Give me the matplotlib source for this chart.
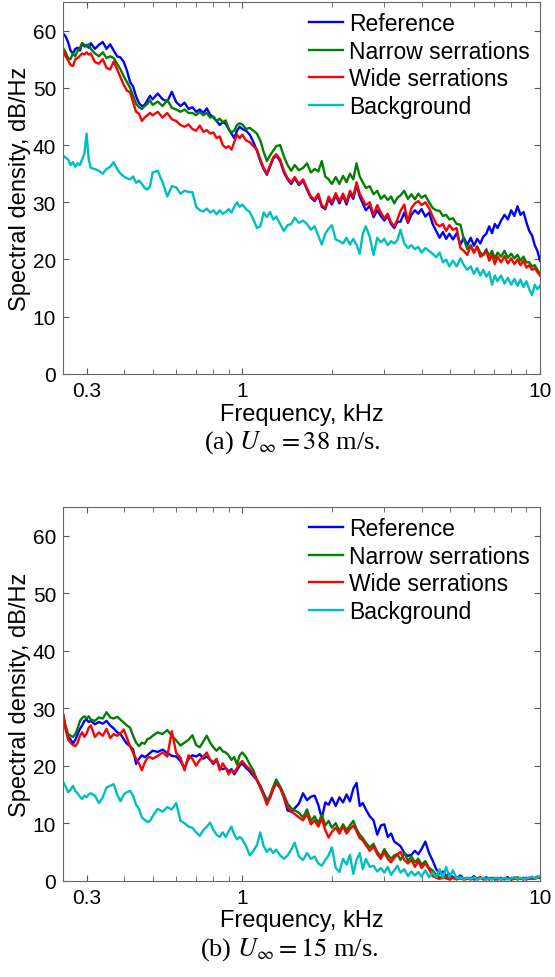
import matplotlib
matplotlib.use("Agg")
import matplotlib.pyplot as plt
from matplotlib.ticker import FixedLocator, NullFormatter

plt.rcParams['font.family'] = ['Liberation Sans', 'DejaVu Sans']
plt.rcParams['mathtext.fontset'] = 'stix'

# frequency grid, kHz (shared by both panels)
freq = [0.25, 0.255, 0.26, 0.265, 0.27, 0.275, 0.28, 0.285, 0.29, 0.295,
        0.30, 0.305, 0.31, 0.32, 0.33, 0.34, 0.35, 0.36, 0.37, 0.38,
        0.39, 0.40, 0.41, 0.42, 0.43, 0.44, 0.45, 0.46, 0.47, 0.48,
        0.49, 0.50, 0.52, 0.54, 0.56, 0.58, 0.60, 0.62, 0.64, 0.66,
        0.68, 0.70, 0.72, 0.74, 0.76, 0.78, 0.80, 0.82, 0.84, 0.86,
        0.88, 0.90, 0.92, 0.94, 0.96, 0.98, 1.00, 1.03, 1.06, 1.09,
        1.12, 1.15, 1.18, 1.21, 1.24, 1.27, 1.30, 1.34, 1.38, 1.42,
        1.46, 1.50, 1.55, 1.60, 1.65, 1.70, 1.75, 1.80, 1.85, 1.90,
        1.95, 2.00, 2.06, 2.12, 2.18, 2.24, 2.30, 2.36, 2.42, 2.48,
        2.54, 2.60, 2.68, 2.76, 2.84, 2.92, 3.00, 3.08, 3.16, 3.24,
        3.32, 3.40, 3.50, 3.60, 3.70, 3.80, 3.90, 4.00, 4.12, 4.24,
        4.36, 4.48, 4.60, 4.72, 4.84, 4.96, 5.10, 5.25, 5.40, 5.55,
        5.70, 5.85, 6.00, 6.15, 6.30, 6.45, 6.60, 6.75, 6.90, 7.05,
        7.20, 7.40, 7.60, 7.80, 8.00, 8.20, 8.40, 8.60, 8.80, 9.00,
        9.20, 9.40, 9.60, 9.80, 10.0]

# (a) U = 38 m/s
ref_38 = [59.5, 59, 58, 56.5, 56, 56.8, 57, 56.5, 57.8, 57.2,
          57.5, 57, 57.8, 56.8, 57.5, 58, 56.8, 57.6, 56.5, 55.5,
          55.3, 54.5, 53, 51, 50.2, 48.5, 47.3, 46.8, 47, 47.8,
          48.6, 48, 49, 48, 47.6, 49.3, 47.5, 46.8, 47.4, 46.3,
          46.6, 45.8, 46.2, 45.6, 46.4, 45.3, 44.8, 44.2, 43.5, 44,
          43.7, 42.8, 42, 41.2, 42.5, 43.2, 42.8, 42.5, 41.8, 40.5,
          39, 37.2, 35.8, 34.8, 36.2, 37.6, 38.2, 37.2, 35.2, 34,
          33.2, 34.2, 33, 33.8, 32.2, 30.8, 30.2, 31.2, 29.2, 28.8,
          30.6, 29.6, 31.2, 29.8, 31.2, 29.6, 31.6, 30.6, 33, 31,
          29.8, 28.6, 29.4, 27.4, 28.6, 27.6, 26.8, 27.6, 26.2, 25.5,
          26.6, 26.6, 28.2, 26.4, 27.8, 28.6, 28, 28.8, 27.5, 28.2,
          26.2, 25, 23.8, 24.8, 23.6, 24.5, 23.5, 24.6, 22.6, 23.8,
          22.5, 23.8, 22.4, 23.6, 22.8, 24, 24.5, 25.8, 24.6, 26.2,
          25.5, 26.8, 27.8, 27, 28.6, 27.6, 29.3, 27.8, 28.3, 26.5,
          25, 24.2, 22.5, 21.5, 19.8]
narrow_38 = [57, 56.2, 55.2, 55, 56, 55.5, 56.5, 57, 57.8, 57.5,
             57.2, 57.6, 56.8, 56, 55.5, 56.2, 55.2, 55.5, 55.2, 54.2,
             53.2, 52, 51, 50, 48.6, 47.2, 46.6, 46.3, 46.8, 47.2,
             47.8, 47, 47.6, 46.8, 47.9, 46.5, 46.2, 45.8, 46.2, 45.6,
             45.6, 45.2, 45.8, 45.2, 45.6, 44.8, 45, 44.2, 44.6, 44.0,
             44.3, 42.8, 42.2, 42.5, 43.5, 43.8, 43.6, 42.8, 43, 42.5,
             42, 40.8, 38.8, 37.2, 38.2, 39, 39.8, 40, 38, 36.5,
             35.5, 36.5, 35.6, 36, 36.8, 35.2, 35.8, 35.4, 37.2, 34.5,
             34, 33.2, 34.4, 33.2, 34.6, 33.5, 35, 34, 36.8, 34.5,
             33.5, 32.5, 32.8, 31.4, 32, 30.6, 31.2, 30.4, 31, 29.8,
             30.8, 31.2, 32, 30.6, 31.4, 30.5, 31.5, 30.8, 31.2, 30,
             29, 28.6, 28.5, 27.6, 27.8, 27, 27.2, 26.2, 26.1, 23.5,
             21.8, 22.5, 21.2, 22.3, 21.2, 20.8, 21.8, 20.6, 21.5, 20.2,
             21.2, 20.5, 21.5, 20.3, 21.0, 20.2, 20.8, 19.8, 20.5, 19.5,
             19.5, 18.8, 19, 18.2, 17.5]
wide_38 = [56.7, 55.5, 54.8, 54, 53.8, 55, 55.2, 55.6, 56, 55.8,
           56.2, 55.8, 56, 54.5, 54.2, 55, 53.5, 53.2, 54.6, 53.2,
           51.8, 50.5, 49.5, 49.2, 47.5, 45.8, 45.5, 44.2, 44.8, 45.2,
           45.6, 45.2, 45.8, 44.8, 45.6, 44.5, 44.2, 43.5, 43.2, 43.6,
           42.8, 42.5, 43.4, 42.3, 42.6, 42, 42.2, 41.2, 41.5, 40,
           39.5, 39.8, 39.2, 40.5, 41.8, 41.2, 41.8, 40.8, 40.5, 39.8,
           39.2, 37.5, 36, 35, 36.5, 37.8, 38.4, 37.5, 35.5, 34.2,
           33.5, 34.4, 33.2, 34, 32.5, 31, 30.5, 31.5, 29.5, 29,
           31, 30, 31.6, 30.2, 31.5, 30, 32, 31, 33.5, 31.5,
           30.5, 29.5, 30, 27.8, 29.5, 28.2, 27.2, 28, 26.5, 25.8,
           27, 28.5, 29.6, 26.6, 29, 29.8, 30.2, 29.5, 30, 29,
           27.5, 26.2, 25.8, 26.2, 25, 26, 25.2, 25.5, 22, 21.5,
           20.8, 22.4, 21.2, 22.2, 20.5, 20.8, 21.5, 19.8, 20.8, 19.2,
           20.5, 19.5, 20.6, 19.3, 20.2, 19.2, 20, 19, 19.8, 18.6,
           19, 18.2, 18.5, 17.8, 17.2]
bg_38 = [38.2, 37.8, 37.5, 36.5, 37, 36.2, 36.8, 36.5, 37.5, 38.5,
         42, 37.5, 36, 35.8, 35.5, 35, 35.8, 36.2, 37, 35.8,
         35, 34.5, 34.2, 34, 34.5, 33.4, 33.8, 33.2, 32.5, 32.2,
         32.8, 35.2, 35.5, 33.5, 31, 32.8, 32.6, 31.5, 32, 31.8,
         31.8, 29.2, 28.6, 28.4, 28.9, 28.2, 28.6, 27.9, 28.6, 28,
         28.3, 28.8, 28.2, 29.2, 30, 29.2, 29.6, 28.8, 28.3, 27,
         25.5, 25.8, 28.2, 27.4, 28.3, 27, 27.5, 26.2, 25, 26,
         26.2, 27.3, 26.4, 26.8, 26.2, 25.2, 25.8, 24.2, 22.6, 24.5,
         25.4, 26, 23.5, 23.2, 22.8, 23.8, 22.6, 23.6, 22.6, 21,
         24.5, 25.8, 24, 20.8, 23.8, 23, 23.6, 22.5, 23.2, 22.8,
         23.4, 25.2, 22.8, 22, 22.5, 21.8, 22.2, 21.2, 22, 21.5,
         21, 20.4, 21.2, 19.5, 20, 18.8, 19.8, 18.8, 20.2, 19,
         18.2, 18.8, 17.5, 18.5, 17.2, 18.2, 17, 17.8, 15.6, 17.2,
         16.2, 17.2, 15.8, 16.8, 15.6, 16.6, 15.4, 16.5, 15.2, 16.2,
         14.8, 13.8, 15.6, 14.8, 15.4]

# (b) U = 15 m/s
ref_15 = [29, 26.5, 25, 24.6, 23.8, 24.5, 25.5, 26.4, 27, 27.8,
          28, 27.6, 27.8, 27.2, 27.6, 27.3, 27.8, 27, 26.5, 25.8,
          25.5, 24.6, 23.8, 23.4, 22.8, 20.3, 21.2, 21.8, 21.5, 21.8,
          22.2, 22.6, 22.4, 22.8, 22.2, 21.7, 21.6, 20.8, 19.6, 21.2,
          21.8, 21.6, 22, 21.2, 21.6, 21, 20.3, 21, 19.6, 19.4,
          19.6, 19, 19.4, 18.5, 19.2, 20, 20.4, 19.6, 19, 18.2,
          17.5, 16.5, 15.2, 14, 14.4, 16, 17, 16.2, 14.5, 12.2,
          12, 12.6, 13.4, 15.2, 14, 14.6, 14.8, 13.2, 10.8, 13.6,
          13.2, 14.4, 13, 14.5, 13.6, 15, 13.8, 16, 17, 13,
          13.5, 12.4, 11.2, 10.5, 8, 9.6, 9.8, 7.6, 8.2, 6.8,
          6.4, 6, 4.8, 4.3, 4.5, 5.2, 4.6, 5.5, 6.8, 4.8,
          3.5, 2, 1.2, 1.6, 0.8, 1.2, 0.6, 0.4, 0.9, 0.3,
          0.5, 0.3, 0.8, 0.2, 0.5, 0.3, 0.6, 0.2, 0.4, 0.3,
          0.5, 0.2, 0.4, 0.6, 0.2, 0.5, 0.3, 0.4, 0.2, 0.5,
          0.3, 0.6, 0.4, 0.7, 0.5]
narrow_15 = [29, 27, 25.5, 25.2, 25, 25.5, 26.5, 27.8, 28.3, 28.6,
             28.2, 28.6, 28, 27.8, 28.4, 28.2, 29.3, 28.4, 28.2, 28.5,
             28, 27.5, 27, 26.6, 25.2, 24, 23.4, 24, 23.8, 24.6,
             24.8, 25.2, 25.8, 25.5, 26.2, 25.2, 24.4, 23.5, 24, 24.5,
             25.3, 23.6, 23.2, 24.2, 25.2, 24, 23.2, 22.6, 23.2, 22.5,
             22.3, 21.8, 21, 21.5, 20.2, 21.8, 22.3, 21.5, 20.2, 19.2,
             17.5, 16.2, 15, 13.8, 14.8, 16.3, 17.6, 16.4, 15, 13.4,
             12.6, 12.2, 11.8, 11, 12.4, 10.4, 11.2, 10, 11.5, 9.6,
             10.4, 9.2, 10, 8.6, 9.8, 8.8, 9.6, 10.4, 9, 8,
             7.4, 6.6, 5.8, 6.4, 5, 4.2, 5.5, 4.5, 3.8, 4.4,
             4.6, 3.6, 4.8, 3.5, 4.2, 3.2, 3.8, 2.8, 3.4, 2.2,
             1.8, 1, 0.6, 0.4, 0.8, 0.3, 0.5, 0.2, 0.6, 0.3,
             0.4, 0.2, 0.5, 0.3, 0.6, 0.2, 0.4, 0.3, 0.5, 0.2,
             0.3, 0.5, 0.2, 0.4, 0.3, 0.6, 0.2, 0.4, 0.5, 0.3,
             0.4, 0.6, 0.3, 0.5, 0.6]
wide_15 = [29, 26.4, 24.6, 24, 23.6, 23.4, 24, 25.2, 25.8, 25,
           25.6, 26.6, 27, 25, 25.8, 25.2, 26.4, 24.8, 25.5, 25.2,
           25.6, 26.3, 24.8, 23.4, 22.2, 21.2, 20.4, 19.2, 20.5, 21.4,
           21.5, 21.2, 21.7, 22.3, 21.6, 26, 22.2, 21.4, 19.2, 21.8,
           21.2, 20, 21, 21.6, 22.3, 21, 20.6, 21.2, 19.2, 20.4,
           19.6, 18.5, 19.2, 18.8, 19.6, 20.4, 20.8, 20, 19.4, 18.6,
           17.6, 16.2, 14.8, 13.2, 14.5, 16, 16.8, 16.2, 14.5, 12.8,
           12, 11.6, 11, 10.5, 11.6, 9.8, 10.5, 9.4, 10.8, 8.8,
           7.5, 8.5, 9.2, 8.2, 9.4, 8.2, 9, 9.6, 8.6, 7.4,
           7, 6.2, 5.2, 6, 4.6, 3.8, 5, 3.8, 3.2, 4,
           4.6, 5, 3.6, 3, 3.6, 2.4, 3.4, 2.2, 3, 2,
           0.8, 0.5, 0.3, 0.6, 0.4, 0.2, 0.5, 0.3, 0.4, 0.2,
           0.3, 0.5, 0.2, 0.4, 0.6, 0.3, 0.2, 0.5, 0.3, 0.4,
           0.2, 0.4, 0.3, 0.5, 0.2, 0.3, 0.6, 0.3, 0.4, 0.2,
           0.5, 0.3, 0.4, 0.6, 0.7]
bg_15 = [17.2, 16.4, 15.4, 15.8, 16.5, 15.6, 15.2, 14.6, 14.2, 14.8,
         14.5, 15, 15.2, 14.8, 13.5, 14.5, 16.2, 16.5, 16.8, 15,
         13.8, 15, 15.4, 15.6, 14.8, 13.2, 12.5, 11, 10.6, 10.2,
         10.4, 11.2, 12.5, 12, 12.8, 12.4, 13.5, 10.4, 10, 9.4,
         9.2, 8.4, 7.8, 8.8, 9.4, 10.1, 8.8, 8, 7.6, 8.4,
         7.6, 8.6, 9.4, 8, 7.2, 7.6, 7.2, 6, 4.4, 5.2,
         6.2, 8.4, 6, 5, 5.6, 4.8, 5.4, 4.4, 3.8, 4.4,
         5.4, 6.6, 4.2, 3.6, 4.8, 3.8, 4.2, 3, 2.6, 3.6,
         4.4, 5.8, 2.2, 1.5, 3.8, 2.8, 4.5, 1.2, 3.6, 4.8,
         2, 3.8, 2.4, 2.6, 1.6, 2.2, 1.4, 2.4, 1, 1.8,
         2.6, 1.4, 2, 0.8, 1.6, 0.9, 1.5, 0.7, 1.8, 0.6,
         1.4, 0.6, 2, 0.5, 2.4, 0.6, 1.8, 0.4, 0.6, 0.3,
         0.5, 0.3, 0.6, 0.2, 0.4, 0.5, 0.3, 0.4, 0.2, 0.5,
         0.4, 0.3, 0.5, 0.2, 0.4, 0.6, 0.3, 0.5, 0.3, 0.4,
         0.5, 0.7, 0.4, 0.6, 0.8]

labels = ["Reference", "Narrow serrations", "Wide serrations", "Background"]
colors = ["#0000ff", "#008000", "#ff0000", "#00bfbf"]


def draw_panel(ax, series):
    for vals, lab, col in zip(series, labels, colors):
        ax.plot(freq, vals, color=col, lw=1.7, label=lab)
    ax.set_xscale("log")
    ax.set_xlim(0.25, 10)
    ax.set_ylim(0, 65)
    ax.set_yticks([0, 10, 20, 30, 40, 50, 60])
    ax.xaxis.set_major_locator(FixedLocator([0.3, 1, 10]))
    ax.xaxis.set_minor_locator(FixedLocator([0.4, 0.5, 0.6, 0.7, 0.8, 0.9,
                                             2, 3, 4, 5, 6, 7, 8, 9]))
    ax.xaxis.set_minor_formatter(NullFormatter())
    ax.set_xticklabels(["0.3", "1", "10"])
    ax.tick_params(which="both", direction="in", top=True, right=True,
                   labelsize=15, color="0.35", pad=5)
    ax.tick_params(which="major", length=4.5)
    ax.tick_params(which="minor", length=3.5)
    for sp in ax.spines.values():
        sp.set_color("0.4")
    ax.set_xlabel("Frequency, kHz", fontsize=17, labelpad=2)
    ax.set_ylabel("Spectral density, dB/Hz", fontsize=17, labelpad=1)
    ax.legend(loc="upper right", frameon=False, fontsize=16.5,
              handlelength=1.5, handletextpad=0.25, labelspacing=0.2,
              borderaxespad=0.25, borderpad=0.2)


fig = plt.figure(figsize=(5.55, 9.78), dpi=100)
ax1 = fig.add_axes([0.1135, 0.6166, 0.8595, 0.3804])
ax2 = fig.add_axes([0.1135, 0.0985, 0.8595, 0.3821])

draw_panel(ax1, [ref_38, narrow_38, wide_38, bg_38])
draw_panel(ax2, [ref_15, narrow_15, wide_15, bg_15])

fig.text(0.527, 0.547, r"(a) $U_\infty = 38$ m/s.", ha="center", va="center",
         fontsize=19, family="Liberation Serif")
fig.text(0.521, 0.0286, r"(b) $U_\infty = 15$ m/s.", ha="center", va="center",
         fontsize=19, family="Liberation Serif")

fig.savefig("out.png", dpi=100)
